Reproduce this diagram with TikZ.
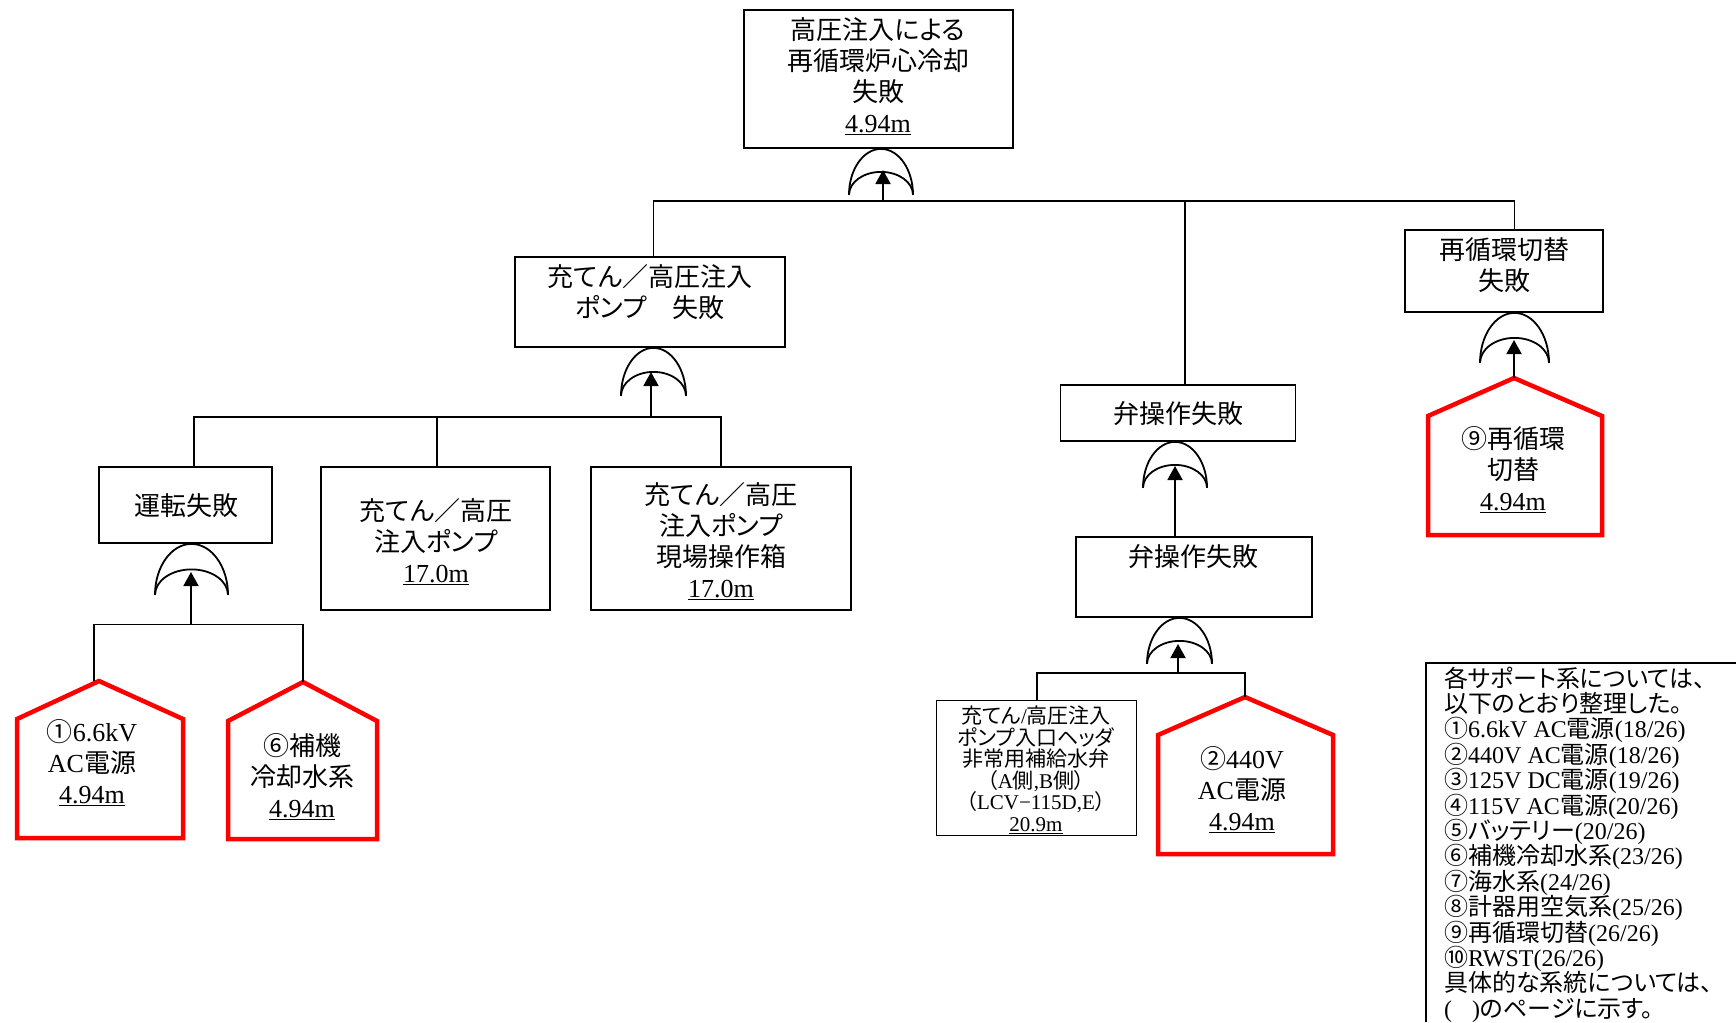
\documentclass[tikz,border=0pt]{standalone}
\usepackage{fontspec}
\setmainfont{Liberation Serif}
\newfontfamily\jp[RawFeature=+palt]{Noto Sans CJK JP}
\usetikzlibrary{arrows.meta}
\newcommand\lt[1]{{\rmfamily #1}}
\newcommand\ul[1]{\underline{\rmfamily #1}}
\newcommand\tightlines{\lineskiplimit=-30pt\relax\lineskip=0pt\relax}
\tikzset{
 bx/.style={draw, line width=1.8pt, inner sep=0pt},
 txt/.style={inner sep=0pt, align=center, font=\jp\fontsize{26}{31}\selectfont\tightlines},
 smalltxt/.style={inner sep=0pt, align=center, font=\jp\fontsize{21}{21.5}\selectfont\tightlines},
 legendtxt/.style={inner sep=0pt, align=left, font=\jp\fontsize{24}{25.4}\selectfont\tightlines},
 ln/.style={line width=1.8pt},
 house/.style={draw=red, line width=4.5pt, line join=miter},
 gate/.style={line width=1.8pt},
 arr/.style={line width=1.8pt, -{Triangle[length=14pt,width=15pt]}},
 pics/orgate/.style 2 args={code={
  \draw[gate] ({-#1/2},#2) .. controls ({-#1/2},{0.4477*#2}) and ({-0.2762*#1},0) .. (0,0) .. controls ({0.2762*#1},0) and ({#1/2},{0.4477*#2}) .. ({#1/2},#2);
  \draw[gate] ({-#1/2},#2) .. controls ({-#1/2},{0.7238*#2}) and ({-0.2762*#1},{#2/2}) .. (0,{#2/2}) .. controls ({0.2762*#1},{#2/2}) and ({#1/2},{0.7238*#2}) .. ({#1/2},#2);
 }},
}
\begin{document}
\begin{tikzpicture}[x=1pt,y=-1pt]
\fill[white] (0,0) rectangle (1736,1022);
\useasboundingbox (0,0) rectangle (1736,1022);

% ---------- boxes ----------
\node[bx, minimum width=269pt, minimum height=138pt] (A) at (878.5,79) {};
\node[bx, minimum width=270pt, minimum height=90pt] (B) at (650,302) {};
\node[bx, minimum width=173pt, minimum height=76pt] (C) at (185.5,505) {};
\node[bx, minimum width=229pt, minimum height=143pt] (D) at (435.5,538.5) {};
\node[bx, minimum width=260pt, minimum height=143pt] (E) at (721,538.5) {};
\node[bx, minimum width=235pt, minimum height=56pt] (F) at (1178,413) {};
\node[bx, minimum width=236pt, minimum height=80pt] (G) at (1194,577) {};
\node[bx, minimum width=200pt, minimum height=135pt] (H) at (1036.5,768) {};
\node[bx, minimum width=198pt, minimum height=82pt] (I) at (1504,271) {};

% ---------- texts ----------
\node[txt] (At) at (878,76) {高圧注入による\\再循環炉心冷却\\失敗\\\ul{4.94m}};
\node[txt] (Bt) at (650,292.5) {充てん／高圧注入\\ポンプ　失敗};
\node[txt] (Ct) at (186,506) {運転失敗};
\node[txt] (Dt) at (436,542) {充てん／高圧\\注入ポンプ\\\ul{17.0m}};
\node[txt] (Et) at (721,541) {充てん／高圧\\注入ポンプ\\現場操作箱\\\ul{17.0m}};
\node[txt] (Ft) at (1178,414) {弁操作失敗};
\node[txt] (Gt) at (1193,557) {弁操作失敗};
\node[smalltxt] (Ht) at (1036,770) {充てん\lt{/}高圧注入\\ポンプ入口ヘッダ\\非常用補給水弁\\（\lt{A}側\lt{,B}側）\\（\lt{LCV−115D,E}）\\\ul{20.9m}};
\node[txt] (It) at (1504,265.5) {再循環切替\\失敗};

% ---------- houses ----------
\coordinate (h1) at (99,681);
\draw[house] (h1) -- (183,719) -- (183,838) -- (17,838) -- (17,719) -- cycle;
\node[txt] (h1t) at (92,763) {①\lt{6.6kV}\\\lt{AC}電源\\\ul{4.94m}};
\coordinate (h2) at (303,682);
\draw[house] (h2) -- (377,721) -- (377,839) -- (228,839) -- (228,721) -- cycle;
\node[txt] (h2t) at (302,777) {⑥補機\\冷却水系\\\ul{4.94m}};
\coordinate (h3) at (1245,697);
\draw[house] (h3) -- (1333,735) -- (1333,854) -- (1158,854) -- (1158,735) -- cycle;
\node[txt] (h3t) at (1242,790) {②\lt{440V}\\\lt{AC}電源\\\ul{4.94m}};
\coordinate (h9) at (1514,378);
\draw[house] (h9) -- (1602,416) -- (1602,535) -- (1428,535) -- (1428,416) -- cycle;
\node[txt] (h9t) at (1513,470) {⑨再循環\\切替\\\ul{4.94m}};

% ---------- gates ----------
\pic at (A.south -| 881,0) {orgate={64}{46}};
\pic at (B.south -| 653.5,0) {orgate={65}{48}};
\pic at (C.south -| 191.5,0) {orgate={73}{51}};
\pic at (F.south -| 1175,0) {orgate={64}{46}};
\pic at (G.south -| 1179.5,0) {orgate={65}{46}};
\pic at (I.south -| 1514.5,0) {orgate={69}{50}};

% ---------- top level bus ----------
\coordinate (j1) at (883,201);
\coordinate (tA) at (883,170);
\coordinate (b1l) at (653.5,201);
\coordinate (b1m) at (1185,201);
\coordinate (b1r) at (1514.5,201);
\draw[ln] (b1l |- B.north) -- (b1l) -- (b1r) -- (b1r |- I.north);
\draw[ln] (b1m) -- (b1m |- F.north);
\draw[arr] (j1) -- (tA);

% ---------- B bus ----------
\coordinate (j2) at (651,417);
\coordinate (tB) at (651,372);
\coordinate (b2l) at (194,417);
\coordinate (b2m) at (437,417);
\coordinate (b2r) at (721,417);
\draw[ln] (b2l |- C.north) -- (b2l) -- (b2r) -- (b2r |- E.north);
\draw[ln] (b2m) -- (b2m |- D.north);
\draw[arr] (j2) -- (tB);

% ---------- C bus ----------
\coordinate (j3) at (191,624.5);
\coordinate (tC) at (191,572);
\coordinate (b3l) at (94,624.5);
\coordinate (b3r) at (303,624.5);
\draw[ln] (94,681) -- (b3l) -- (b3r) -- (h2);
\draw[arr] (j3) -- (tC);

% ---------- F -> G ----------
\coordinate (tF) at (1175,466);
\draw[arr] (G.north -| tF) -- (tF);

% ---------- G bus ----------
\coordinate (j4) at (1178,673);
\coordinate (tG) at (1178,644);
\coordinate (b4l) at (1037,673);
\coordinate (b4r) at (1245,673);
\draw[ln] (b4l |- H.north) -- (b4l) -- (b4r) -- (h3);
\draw[arr] (j4) -- (tG);

% ---------- I <- house 9 ----------
\coordinate (tI) at (1514,340);
\draw[arr] (h9) -- (tI);

% ---------- legend ----------
\draw[ln] (1426,1022) -- (1426,663) -- (1736,663);
\node[legendtxt, anchor=north west] (leg) at (1444,666.5) {各サポート系については、\\
以下のとおり整理した。\\
①\lt{6.6kV AC}電源\lt{(18/26)}\\
②\lt{440V AC}電源\lt{(18/26)}\\
③\lt{125V DC}電源\lt{(19/26)}\\
④\lt{115V AC}電源\lt{(20/26)}\\
⑤バッテリー\lt{(20/26)}\\
⑥補機冷却水系\lt{(23/26)}\\
⑦海水系\lt{(24/26)}\\
⑧計器用空気系\lt{(25/26)}\\
⑨再循環切替\lt{(26/26)}\\
⑩\lt{RWST(26/26)}\\
具体的な系統については、\\
\lt{(}\hspace{20pt}\lt{)}のページに示す。};
\end{tikzpicture}
\end{document}
